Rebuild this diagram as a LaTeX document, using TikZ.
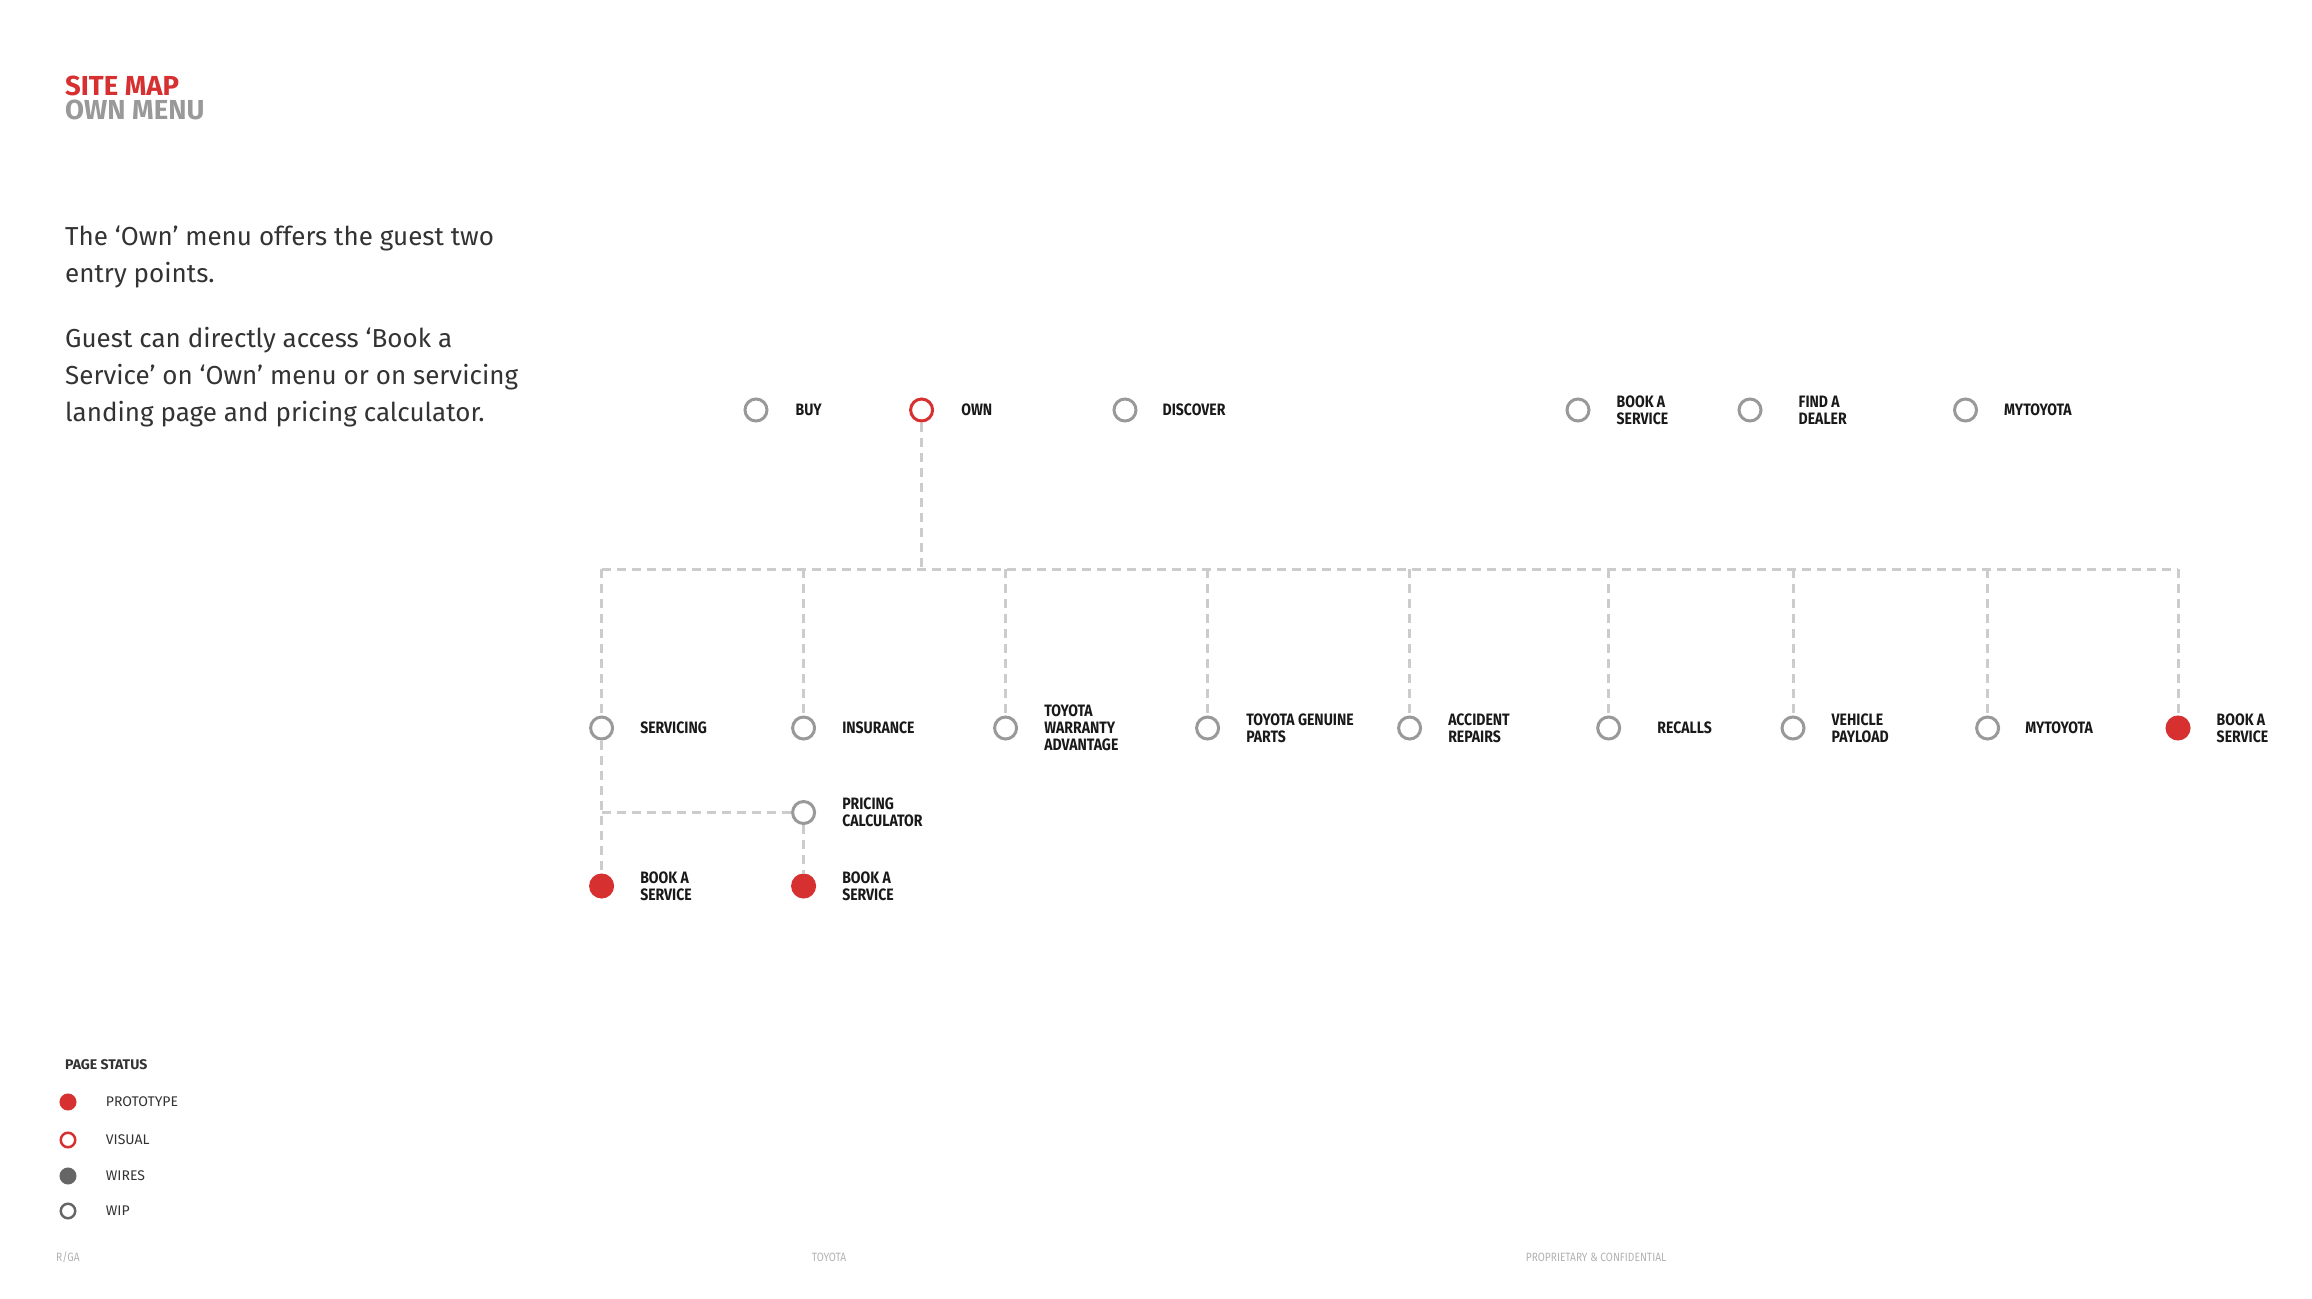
\documentclass[tikz,border=0pt]{standalone}
\usepackage{fontspec}
\setmainfont{Fira Sans}
\newfontfamily\lblfont[FakeStretch=0.85]{Fira Sans}
\usetikzlibrary{positioning}
\definecolor{tred}{RGB}{214,48,49}
\definecolor{ring}{RGB}{153,153,153}
\definecolor{dashc}{RGB}{204,204,204}
\definecolor{ink}{RGB}{51,51,51}
\definecolor{dark}{RGB}{102,102,102}
\tikzset{
  page/.style={circle,minimum size=22pt,inner sep=0pt,line width=3pt},
  wip/.style={page,draw=ring},
  visual/.style={page,draw=tred},
  proto/.style={page,draw=tred,fill=tred},
  lbl/.style={font=\lblfont\bfseries\fontsize{16.5}{17}\selectfont,align=left,inner sep=0pt,text=black!90},
  link/.style={draw=dashc,line width=3pt,dash pattern=on 9pt off 6pt},
  key/.style={circle,minimum size=14.5pt,inner sep=0pt,line width=2.5pt},
  keyproto/.style={key,draw=tred,fill=tred},
  keyvisual/.style={key,draw=tred},
  keywires/.style={key,draw=dark,fill=dark},
  keywip/.style={key,draw=dark},
  keytext/.style={font=\fontsize{14}{16}\selectfont,text=ink,inner sep=0pt},
  foot/.style={font=\lblfont\fontsize{12}{14}\selectfont,text=black!30,inner sep=0pt}
}
\begin{document}
\begin{tikzpicture}[x=1pt,y=-1pt]
    \useasboundingbox (0,0) rectangle (2312,1298);
    \node[anchor=base west,inner sep=0pt,text depth=0pt,text=tred,font=\bfseries\fontsize{27.5}{28}\selectfont] (sitemap) at (65,95) {SITE MAP};
    \node[anchor=base west,inner sep=0pt,text height=18pt,text=ring,font=\bfseries\fontsize{27.5}{28}\selectfont] (ownmenu) at (65,119) {OWN MENU};
    \node[anchor=base west,inner sep=0pt,align=left,text=ink,font=\fontsize{26}{36.7}\selectfont] (intro) at (65,282)
        {The ‘Own’ menu offers the guest two\\entry points.};
    \node[anchor=base west,inner sep=0pt,align=left,text=ink,font=\fontsize{26}{36.7}\selectfont] (access) at (65,421)
        {Guest can directly access ‘Book a\\Service’ on ‘Own’ menu or on servicing\\landing page and pricing calculator.};
    % main menu
    \foreach \n/\x/\s/\d/\t in {buy/756/wip/27/BUY, own/921.6/visual/27/OWN, discover/1125/wip/25/DISCOVER,
        booka/1578/wip/26/{BOOK A\\SERVICE}, dealer/1750/wip/36/{FIND A\\DEALER}, mytoyotaa/1965.5/wip/26/MYTOYOTA}{
        \node[\s] (\n) at (\x,410) {};
        \node[lbl,right=\d pt of \n] {\t};
    }
    % own menu
    \foreach \n/\x/\s/\d/\t in {servicing/601.6/wip/26/SERVICING, insurance/803.6/wip/26/INSURANCE,
        warranty/1005.6/wip/26/{TOYOTA\\WARRANTY\\ADVANTAGE}, genuine/1207.6/wip/26/{TOYOTA GENUINE\\PARTS},
        accident/1409.6/wip/26/{ACCIDENT\\REPAIRS}, recalls/1608.7/wip/36/RECALLS,
        payload/1793/wip/26/{VEHICLE\\PAYLOAD}, mytoyotab/1987.6/wip/25/MYTOYOTA, bookc/2178/proto/26/{BOOK A\\SERVICE}}{
        \node[\s] (\n) at (\x,728) {};
        \node[lbl,right=\d pt of \n] {\t};
    }
    \node[wip] (pricing) at (803.6,812.5) {};
    \node[lbl,right=26pt of pricing] {PRICING\\CALCULATOR};
    \node[proto] (servb) at (601.6,886) {};
    \node[lbl,right=26pt of servb] {BOOK A\\SERVICE};
    \node[proto] (servc) at (803.6,886) {};
    \node[lbl,right=26pt of servc] {BOOK A\\SERVICE};
    % links
    \coordinate (hub) at (921.6,569);
    \draw[link] (own) -- (hub);
    \draw[link] (servicing |- hub) -- (bookc |- hub);
    \foreach \n in {servicing,insurance,warranty,genuine,accident,recalls,payload,mytoyotab,bookc}
        \draw[link] (\n |- hub) -- (\n);
    \draw[link] (servicing) -- (servb);
    \draw[link] (servicing |- pricing) -- (pricing);
    \draw[link] (pricing) -- (servc);
    % legend
    \node[anchor=base west,inner sep=0pt,text=ink,font=\bfseries\fontsize{14}{16}\selectfont] (status) at (65,1069) {PAGE STATUS};
    \foreach \n/\y/\t in {proto/1102/PROTOTYPE, visual/1140/VISUAL, wires/1176/WIRES, wip/1211/WIP}{
        \node[key\n] (k\n) at (68,\y) {};
        \node[keytext,anchor=west] at (105.7,\y) {\t};
    }
    % footer
    \node[foot,anchor=west] (rga) at (56,1257) {R/GA};
    \node[foot] (brand) at (829,1257) {TOYOTA};
    \node[foot] (conf) at (1596,1257) {PROPRIETARY \& CONFIDENTIAL};
\end{tikzpicture}
\end{document}
